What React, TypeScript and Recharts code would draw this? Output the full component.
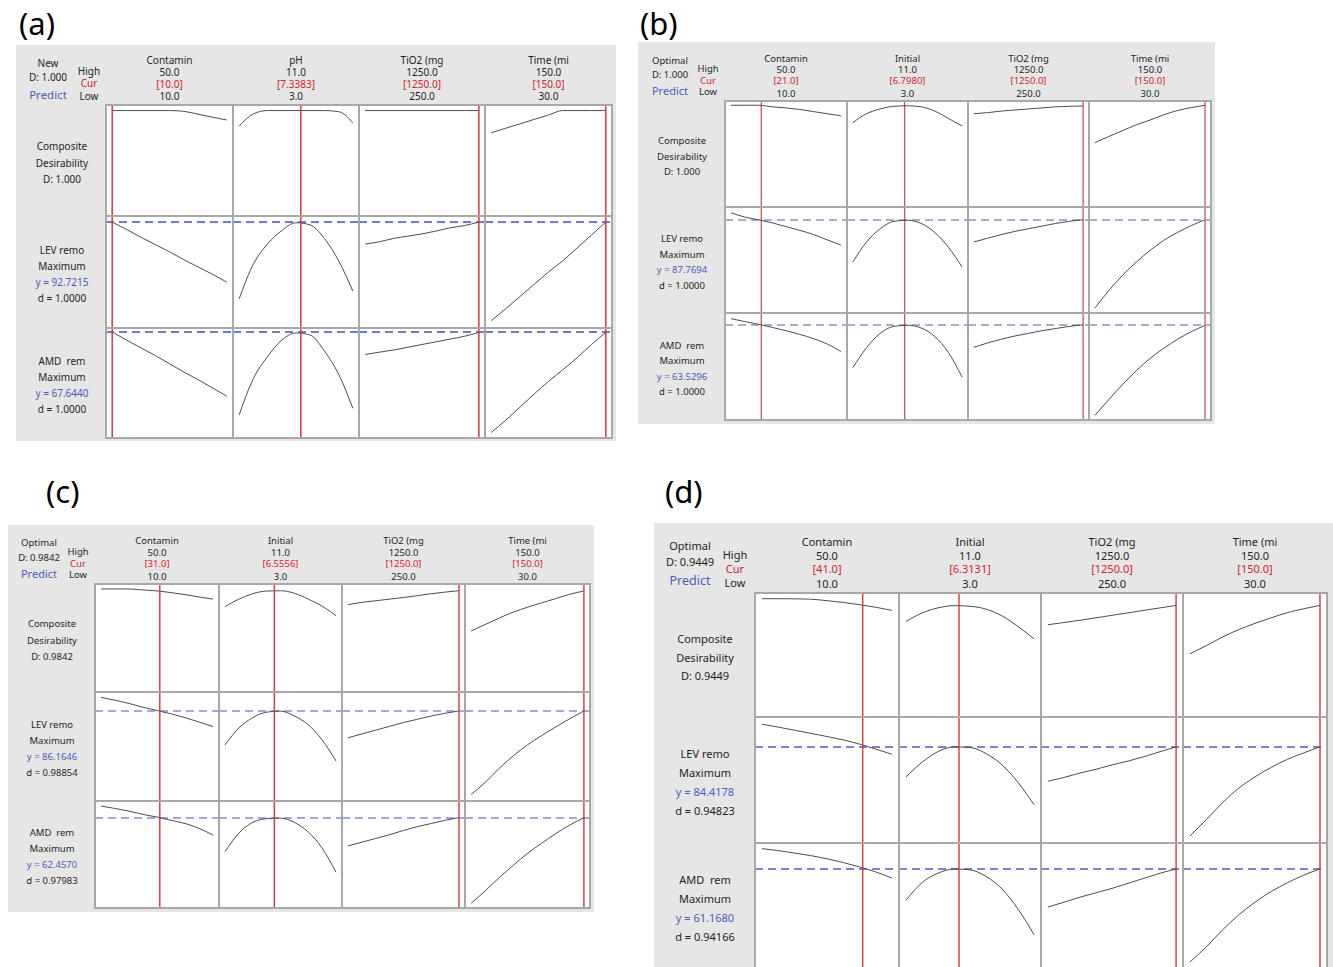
import React from 'react';
import { LineChart, Line, XAxis, YAxis, ReferenceLine } from 'recharts';

const FONT = '"Noto Sans", "Open Sans", sans-serif';

// factors (columns)
const factorNames = ['Contamin', 'Initial', 'TiO2 (mg', 'Time (mi'];
const factorNamesA = ['Contamin', 'pH', 'TiO2 (mg', 'Time (mi'];
const highText = ['50.0', '11.0', '1250.0', '150.0'];
const lowText = ['10.0', '3.0', '250.0', '30.0'];
const factorLow = [10, 3, 250, 30];
const factorHigh = [50, 11, 1250, 150];

// factor levels at which the curves were read
const contaminX = [10, 15, 20, 25, 30, 35, 40, 45, 50];
const initialX = [3, 4, 5, 6, 7, 8, 9, 10, 11];
const tio2X = [250, 375, 500, 625, 750, 875, 1000, 1125, 1250];
const timeX = [30, 45, 60, 75, 90, 105, 120, 135, 150];
const factorX = [contaminX, initialX, tio2X, timeX];

// curve heights are % of each cell's height (0 = bottom, 100 = top)

// panel (a)
const aCur = [10.0, 7.3383, 1250.0, 150.0];
const aCurText = ['[10.0]', '[7.3383]', '[1250.0]', '[150.0]'];
const aResults = ['1.000', '92.7215', '1.0000', '67.6440', '1.0000'];
const aComposite = [
  [95, 95, 95, 95, 95, 94.3, 91.7, 89, 86.5],
  [81, 92, 95, 95, 95, 95, 95, 94, 84],
  [95, 95, 95, 95, 95, 95, 95, 95, 95],
  [75, 79, 83, 87, 91, 95, 95, 95, 95],
];
const aLev = [
  [94.6, 88, 81, 74.5, 68, 61, 54.5, 48, 41],
  [26, 57, 75, 87, 94, 92, 80, 60, 33],
  [75, 77, 80, 82, 84, 86.6, 89.5, 91.5, 94.6],
  [6.5, 17, 28, 39, 50, 60, 71.5, 83, 94.6],
];
const aAmd = [
  [96.4, 89, 82, 75, 67.5, 60, 53, 45.5, 38],
  [21, 54, 74, 89, 95.5, 93.6, 79, 58, 27],
  [76, 78, 80, 82.5, 85, 87.5, 90, 92.5, 96],
  [5, 16, 28, 40, 51.5, 62, 73, 85, 96],
];
const aLevels = [null, 94.6, 96.4];

// panel (b)
const bCur = [21.0, 6.798, 1250.0, 150.0];
const bCurText = ['[21.0]', '[6.7980]', '[1250.0]', '[150.0]'];
const bResults = ['1.000', '87.7694', '1.0000', '63.5296', '1.0000'];
const bComposite = [
  [96, 96, 96, 94.5, 93.5, 92, 90, 88, 86],
  [79.6, 88, 92.5, 95, 95.5, 94.5, 90.5, 83.5, 76.4],
  [88, 89, 90.5, 91.5, 92.5, 93.5, 94.5, 95, 95.3],
  [60.7, 66.5, 72, 77.5, 82, 87, 91, 93.8, 96],
];
const bLev = [
  [94.6, 90.5, 88, 85, 81.5, 78, 74, 69, 64],
  [48, 67, 79.5, 86.5, 87.5, 84.5, 76, 62, 43.4],
  [67, 70.5, 74, 77, 79.5, 82, 84.5, 86.5, 88],
  [4.7, 21, 35.5, 48, 59, 68.5, 76, 82.5, 88],
];
const bAmd = [
  [94.7, 92, 89.5, 86.5, 83.5, 80, 76, 71, 64],
  [49, 67.6, 81, 87.5, 88.5, 86, 78, 63, 40],
  [68, 72, 75.5, 78.5, 81, 83.5, 85.5, 87.5, 89],
  [4.4, 19, 33, 46, 57.5, 67, 75.5, 82.5, 88.5],
];
const bLevels = [null, 87.7, 88.8];

// panel (c)
const cCur = [31.0, 6.5556, 1250.0, 150.0];
const cCurText = ['[31.0]', '[6.5556]', '[1250.0]', '[150.0]'];
const cResults = ['0.9842', '86.1646', '0.98854', '62.4570', '0.97983'];
const cComposite = [
  [95.4, 95.4, 95.4, 94.5, 93.6, 92, 90.2, 88, 86],
  [79, 86, 91, 93.5, 93.8, 91.4, 86, 79.5, 70.7],
  [81, 83, 84.5, 86, 87.5, 89.2, 91, 92.5, 93.8],
  [56.5, 62.5, 68.5, 74, 78.5, 82.5, 86.5, 90.5, 93.5],
];
const cLev = [
  [95, 92.5, 89.5, 86, 83, 80, 76.5, 72.5, 68.3],
  [51.4, 67, 76.5, 81.5, 82.5, 78, 70, 56, 36.7],
  [58, 61.5, 65, 68.5, 72, 75, 78, 80.5, 82.6],
  [6, 17, 30, 41.5, 51.5, 60, 68, 75.5, 82.6],
];
const cAmd = [
  [95.3, 93, 90.5, 87.5, 85, 82, 79, 74.5, 68.2],
  [52.6, 70, 80, 83.5, 84, 80, 71, 56, 33.4],
  [58, 61.5, 65, 68.5, 72.5, 76, 79, 82, 84.4],
  [4.4, 16, 28.5, 40, 51, 60.5, 69.5, 77.5, 84.4],
];
const cLevels = [null, 82.6, 84];

// panel (d)
const dCur = [41.0, 6.3131, 1250.0, 150.0];
const dCurText = ['[41.0]', '[6.3131]', '[1250.0]', '[150.0]'];
const dResults = ['0.9449', '84.4178', '0.94823', '61.1680', '0.94166'];
const dComposite = [
  [95.4, 95.4, 95.3, 95, 93.8, 92.4, 90.6, 88.5, 86],
  [77, 83.8, 88, 89.8, 89.3, 87, 81.5, 73, 63],
  [74.4, 76.2, 78, 80, 82, 84, 86, 88, 90],
  [51, 57.5, 64.5, 70.5, 75.5, 80, 84.2, 87.3, 90],
];
const dLev = [
  [94.2, 92, 89.5, 87, 84.5, 81.8, 78.5, 74.5, 70.4],
  [52.4, 64, 72.5, 76.3, 75.8, 71, 62, 48, 30.4],
  [49, 52, 55.5, 58.5, 62, 65, 68.5, 72.5, 76.3],
  [5.6, 18.5, 32, 43.5, 52.5, 60, 66.4, 71.5, 76.3],
];
const dAmd = [
  [95.5, 94, 92, 90, 87.5, 84.5, 81, 77, 72.2],
  [54.5, 68.5, 76, 79.4, 78.7, 73.5, 63.5, 47.5, 27.2],
  [49.2, 53, 57, 60.5, 64, 68, 72, 76, 79.4],
  [5.6, 17.5, 31, 43, 53, 61.5, 68.5, 74.5, 79.4],
];
const dLevels = [null, 76.2, 79.4];

// geometry of the four panels
const layoutA = {
  tag: [19, 1], box: [16, 45, 600, 396],
  cols: [106, 233, 359, 485, 612], rows: [105, 216, 328, 438],
  fs: 10, pfs: 11.5, gap: 16.3, colHead: [60, 72, 84, 96],
  leftX: 48, leftYs: [63, 77, 95], hiloX: 89, hiloYs: [71, 83, 96], labelX: 62,
  dash: '#3d52bf', red: '#e2323c', redW: 1.5,
};
const layoutB = {
  tag: [640, 1], box: [638, 42, 577, 382],
  cols: [725, 847, 968, 1089, 1211], rows: [101, 207, 313, 420],
  fs: 9.5, pfs: 11, gap: 15.6, colHead: [58, 69, 80, 93],
  leftX: 670, leftYs: [60, 74, 90], hiloX: 708, hiloYs: [68, 80, 91], labelX: 682,
  dash: '#8595cf', red: '#b3262c', redW: 1,
};
const layoutC = {
  tag: [46, 469], box: [8, 525, 586, 387],
  cols: [95, 219, 342, 465, 590], rows: [584, 692, 801, 908],
  fs: 9.5, pfs: 11, gap: 16.3, colHead: [540, 552, 563, 576],
  leftX: 39, leftYs: [542, 557, 573], hiloX: 78, hiloYs: [551, 563, 574], labelX: 52,
  dash: '#7d8ed0', red: '#d9343a', redW: 1.4,
};
const layoutD = {
  tag: [665, 469], box: [654, 523, 679, 450],
  cols: [755, 899, 1041, 1183, 1327], rows: [593, 717, 843, 969],
  fs: 11, pfs: 12.5, gap: 18.7, colHead: [541, 555, 568, 583],
  leftX: 690, leftYs: [545, 561, 581], hiloX: 735, hiloYs: [554, 568, 582], labelX: 705,
  dash: '#4a5ec6', red: '#d42a30', redW: 1.3,
};

const panels = [
  { tag: '(a)', head: 'New', names: factorNamesA, cur: aCur, curText: aCurText, results: aResults, curves: [aComposite, aLev, aAmd], levels: aLevels, L: layoutA },
  { tag: '(b)', head: 'Optimal', names: factorNames, cur: bCur, curText: bCurText, results: bResults, curves: [bComposite, bLev, bAmd], levels: bLevels, L: layoutB },
  { tag: '(c)', head: 'Optimal', names: factorNames, cur: cCur, curText: cCurText, results: cResults, curves: [cComposite, cLev, cAmd], levels: cLevels, L: layoutC },
  { tag: '(d)', head: 'Optimal', names: factorNames, cur: dCur, curText: dCurText, results: dResults, curves: [dComposite, dLev, dAmd], levels: dLevels, L: layoutD },
];

const RED = '#d3242c';
const BLUE = '#4a5db8';
const INK = '#1e1e1e';

function Txt({ x, y, text, color = INK, size }: any) {
  const lh = Math.round(size * 1.4);
  return (
    <div
      style={{
        position: 'absolute', left: x - 100, top: y - lh / 2, width: 200, height: lh,
        lineHeight: `${lh}px`, fontSize: size, color, textAlign: 'center', whiteSpace: 'pre',
      }}
    >
      {text}
    </div>
  );
}

function Cell({ xs, ys, lo, hi, cur, level, w, h, dash, red, redW }: any) {
  const pad = (hi - lo) * 0.054;
  const data = xs.map((x: number, i: number) => ({ x, y: ys[i] }));
  return (
    <LineChart width={w} height={h} data={data} margin={{ top: 0, right: 0, bottom: 0, left: 0 }}>
      <XAxis type="number" dataKey="x" domain={[lo - pad, hi + pad]} hide height={0} />
      <YAxis type="number" domain={[0, 100]} hide width={0} />
      {level != null && (
        <ReferenceLine y={level} stroke={dash} strokeWidth={1.5} strokeDasharray="8 5" />
      )}
      <Line
        type="monotone"
        dataKey="y"
        stroke="#4d4d4d"
        strokeWidth={1}
        dot={false}
        isAnimationActive={false}
      />
      <ReferenceLine x={cur} stroke={red} strokeWidth={redW} />
    </LineChart>
  );
}

function Panel({ p }: any) {
  const L = p.L;
  const [bx, by, bw, bh] = L.box;
  const gx = L.cols[0];
  const gy = L.rows[0];
  const gw = L.cols[4] - gx;
  const gh = L.rows[3] - gy;
  const [D, levY, levD, amdY, amdD] = p.results;
  const rowLines = [
    [['Composite', INK], ['Desirability', INK], [`D: ${D}`, INK]],
    [['LEV remo', INK], ['Maximum', INK], [`y = ${levY}`, BLUE], [`d = ${levD}`, INK]],
    [['AMD  rem', INK], ['Maximum', INK], [`y = ${amdY}`, BLUE], [`d = ${amdD}`, INK]],
  ];

  return (
    <>
      <div style={{ position: 'absolute', left: bx, top: by, width: bw, height: bh, background: '#e6e6e6' }} />
      <div style={{ position: 'absolute', left: gx, top: gy, width: gw, height: gh, background: '#fff' }} />

      {p.curves.map((rowCurves: number[][], r: number) =>
        rowCurves.map((ys, c) => (
          <div
            key={`${r}-${c}`}
            style={{ position: 'absolute', left: L.cols[c], top: L.rows[r] }}
          >
            <Cell
              xs={factorX[c]}
              ys={ys}
              lo={factorLow[c]}
              hi={factorHigh[c]}
              cur={p.cur[c]}
              level={p.levels[r]}
              w={L.cols[c + 1] - L.cols[c]}
              h={L.rows[r + 1] - L.rows[r]}
              dash={L.dash}
              red={L.red}
              redW={L.redW}
            />
          </div>
        ))
      )}

      {L.cols.map((x: number, i: number) => (
        <div key={`v${i}`} style={{ position: 'absolute', left: x - 1, top: gy - 1, width: 2, height: gh + 2, background: '#a8a8a8' }} />
      ))}
      {L.rows.map((y: number, i: number) => (
        <div key={`h${i}`} style={{ position: 'absolute', left: gx - 1, top: y - 1, width: gw + 2, height: 2, background: '#a8a8a8' }} />
      ))}

      <Txt x={L.leftX} y={L.leftYs[0]} text={p.head} size={L.fs} />
      <Txt x={L.leftX} y={L.leftYs[1]} text={`D: ${D}`} size={L.fs} />
      <Txt x={L.leftX} y={L.leftYs[2]} text="Predict" size={L.pfs} color={BLUE} />
      <Txt x={L.hiloX} y={L.hiloYs[0]} text="High" size={L.fs} />
      <Txt x={L.hiloX} y={L.hiloYs[1]} text="Cur" size={L.fs} color={RED} />
      <Txt x={L.hiloX} y={L.hiloYs[2]} text="Low" size={L.fs} />

      {p.names.map((name: string, c: number) => {
        const cx = (L.cols[c] + L.cols[c + 1]) / 2;
        return (
          <React.Fragment key={name}>
            <Txt x={cx} y={L.colHead[0]} text={name} size={L.fs} />
            <Txt x={cx} y={L.colHead[1]} text={highText[c]} size={L.fs} />
            <Txt x={cx} y={L.colHead[2]} text={p.curText[c]} size={L.fs} color={RED} />
            <Txt x={cx} y={L.colHead[3]} text={lowText[c]} size={L.fs} />
          </React.Fragment>
        );
      })}

      {rowLines.map((lines, r) => {
        const cy = (L.rows[r] + L.rows[r + 1]) / 2 + 2;
        return lines.map(([t, col], k) => (
          <Txt
            key={`${r}-${k}`}
            x={L.labelX}
            y={cy + (k - (lines.length - 1) / 2) * L.gap}
            text={t}
            color={col}
            size={L.fs}
          />
        ));
      })}

      <div
        style={{
          position: 'absolute', left: L.tag[0], top: L.tag[1], fontSize: 31,
          lineHeight: '44px', color: '#000',
        }}
      >
        {p.tag}
      </div>
    </>
  );
}

export default function App() {
  return (
    <div
      style={{
        position: 'absolute', left: 0, top: 0, width: 1333, height: 967,
        overflow: 'hidden', background: '#fff', fontFamily: FONT,
      }}
    >
      {panels.map((p) => (
        <Panel key={p.tag} p={p} />
      ))}
    </div>
  );
}
